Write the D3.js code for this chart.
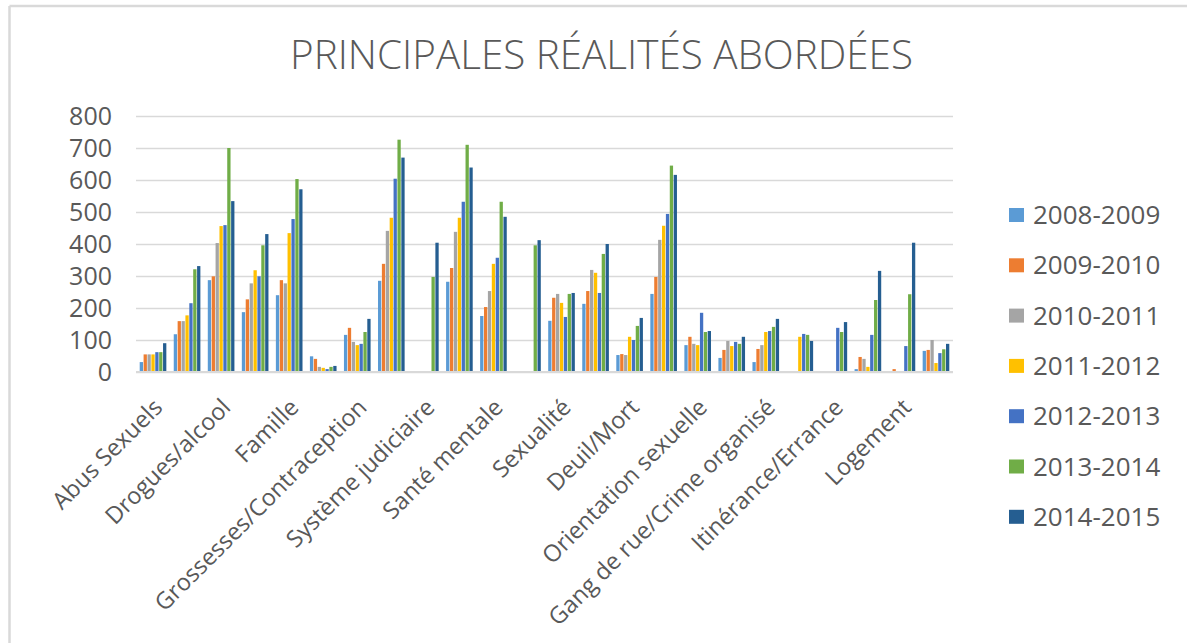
<!DOCTYPE html>
<html><head><meta charset="utf-8">
<script src="https://cdn.jsdelivr.net/npm/d3@7"></script>
<style>body{margin:0;background:#fff}svg{display:block}</style>
</head><body>
<svg id="c" width="1187" height="643"></svg>
<script>
const title = "PRINCIPALES RÉALITÉS ABORDÉES";
// 24 categories; only every other label is displayed (as in the reference)
const categoryLabels = ["Abus Sexuels", null, "Drogues/alcool", null, "Famille", null,
  "Grossesses/Contraception", null, "Système judiciaire", null, "Santé mentale", null,
  "Sexualité", null, "Deuil/Mort", null, "Orientation sexuelle", null,
  "Gang de rue/Crime organisé", null, "Itinérance/Errance", null, "Logement", null];
const series = ["2008-2009","2009-2010","2010-2011","2011-2012","2012-2013","2013-2014","2014-2015"];
const colors = ["#5B9BD5","#ED7D31","#A5A5A5","#FFC000","#4472C4","#70AD47","#255E91"];
const yTicks = [0,100,200,300,400,500,600,700,800];

const s2008 = [31,118,287,187,240,49,116,285,0,282,175,0,160,213,53,244,84,44,31,3,0,9,0,66];
const s2009 = [55,159,299,227,287,41,138,338,0,325,203,0,232,253,56,297,110,69,72,3,0,47,9,69];
const s2010 = [55,159,403,277,277,16,94,441,0,438,253,0,244,319,53,413,88,97,84,0,0,41,0,100];
const s2011 = [55,177,456,318,434,13,84,482,0,482,338,0,216,310,110,457,84,81,125,110,0,16,0,28];
const s2012 = [62,215,459,299,478,9,88,604,0,532,357,0,172,247,100,494,185,94,128,119,138,116,81,59];
const s2013 = [62,321,700,396,603,16,125,726,297,710,532,396,244,369,144,645,125,88,141,116,125,225,243,71];
const s2014 = [90,331,534,431,571,19,166,670,404,639,485,412,247,400,169,616,128,110,166,97,156,316,404,88];
const values = [s2008,s2009,s2010,s2011,s2012,s2013,s2014];

const svg = d3.select("#c");
const textCol = "#595959", gridCol = "#d9d9d9";
const font = "'Open Sans', sans-serif";

// chart frame (top & left edges visible)
svg.append("line").attr("x1",9.5).attr("x2",1187).attr("y1",6).attr("y2",6).attr("stroke",gridCol).attr("stroke-width",2.5);
svg.append("line").attr("x1",9.5).attr("x2",9.5).attr("y1",6).attr("y2",643).attr("stroke",gridCol).attr("stroke-width",2.5);

const pL = 136, pR = 953, pT = 116, pB = 372;
const x0 = d3.scaleBand().domain(d3.range(categoryLabels.length)).range([pL,pR]).paddingInner(0.2).paddingOuter(0.1);
const x1 = d3.scaleBand().domain(d3.range(series.length)).range([0,x0.bandwidth()]);
const y = d3.scaleLinear().domain([0,800]).range([pB,pT]);

// title, fitted to the reference width
const t = svg.append("text").attr("x",(290+913)/2).attr("y",69).attr("text-anchor","middle")
  .attr("fill",textCol).attr("font-family",font).attr("font-weight",300).attr("font-size",36).text(title);
const tw = t.node().getComputedTextLength();
t.attr("font-size", 36*623/tw);

// grid
const yAxis = d3.axisLeft(y).tickValues(yTicks).tickSize(-(pR-pL)).tickPadding(24);
const ga = svg.append("g").attr("transform",`translate(${pL},0)`).call(yAxis);
ga.select(".domain").remove();
ga.selectAll(".tick line").attr("stroke",gridCol).attr("stroke-width",1.3);
ga.selectAll(".tick text").attr("fill",textCol).attr("font-family",font).attr("font-size",25).attr("dy","0.35em");

// bars
const rows = categoryLabels.map((c,i)=>({i, vals: values.map((s,k)=>({k, v:s[i]}))}));
svg.append("g").selectAll("g").data(rows).join("g")
  .attr("transform",d=>`translate(${x0(d.i)},0)`)
  .selectAll("rect").data(d=>d.vals).join("rect")
  .attr("x",d=>x1(d.k)+0.3).attr("width",x1.bandwidth()-0.6)
  .attr("y",d=>y(d.v)).attr("height",d=>y(0)-y(d.v))
  .attr("fill",d=>colors[d.k]);

// baseline
svg.append("line").attr("x1",pL).attr("x2",pR).attr("y1",pB).attr("y2",pB).attr("stroke",gridCol).attr("stroke-width",2);

// x axis labels
const xAxis = d3.axisBottom(x0).tickSize(0).tickFormat(i=>categoryLabels[i] || "");
const gx = svg.append("g").attr("transform",`translate(0,${pB})`).call(xAxis);
gx.select(".domain").remove();
gx.selectAll(".tick text").attr("fill",textCol).attr("font-family",font).attr("font-size",23.5)
  .attr("text-anchor","end").attr("y",0).attr("dy","0.35em")
  .attr("transform","translate(5,31) rotate(-45)");

// legend
const lg = svg.append("g").selectAll("g").data(series).join("g")
  .attr("transform",(d,i)=>`translate(1009,${215+i*50.3})`);
lg.append("rect").attr("x",0).attr("y",-7).attr("width",15).attr("height",14).attr("fill",(d,i)=>colors[i]);
lg.append("text").attr("x",24).attr("y",0).attr("dy","0.35em").attr("fill",textCol)
  .attr("font-family",font).attr("font-size",26).text(d=>d);
</script>
</body></html>
